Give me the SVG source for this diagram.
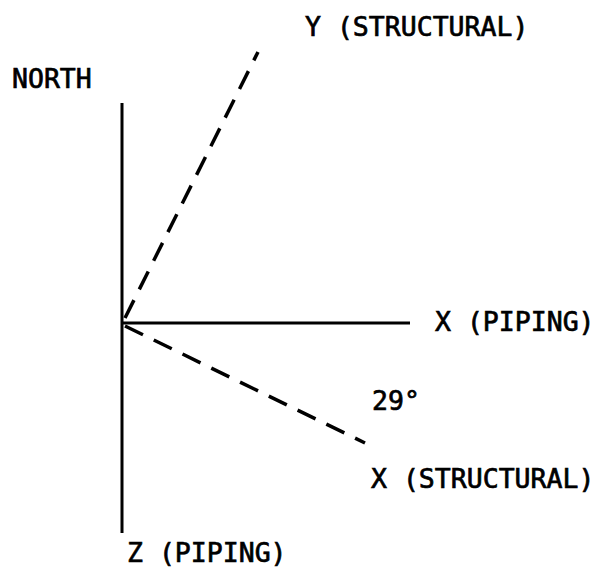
<svg xmlns="http://www.w3.org/2000/svg" width="598" height="580" viewBox="0 0 598 580">
<style>
.lbl{font-family:"DejaVu Sans Mono","Liberation Mono",monospace;font-size:26.5px;fill:#000;stroke:#000;stroke-width:0.7}
.solid{stroke:#000;stroke-width:3;fill:none}
.dash{stroke:#000;stroke-width:3.5;fill:none;stroke-dasharray:20 12}
</style>
<rect width="598" height="580" fill="#fff"/>
<g id="connectors">
<line class="solid" x1="122" y1="103" x2="122" y2="533"/>
<line class="solid" x1="122" y1="323" x2="410" y2="323"/>
<line class="dash" x1="125" y1="318" x2="258" y2="52"/>
<line class="dash" x1="125" y1="326" x2="365" y2="443"/>
</g>
<g id="north"><text class="lbl" x="12" y="88">NORTH</text></g>
<g id="y-structural"><text class="lbl" x="305" y="36">Y (STRUCTURAL)</text></g>
<g id="x-piping"><text class="lbl" x="435" y="331">X (PIPING)</text></g>
<g id="angle"><text class="lbl" x="372" y="410">29°</text></g>
<g id="x-structural"><text class="lbl" x="371" y="488">X (STRUCTURAL)</text></g>
<g id="z-piping"><text class="lbl" x="127" y="562">Z (PIPING)</text></g>
</svg>
